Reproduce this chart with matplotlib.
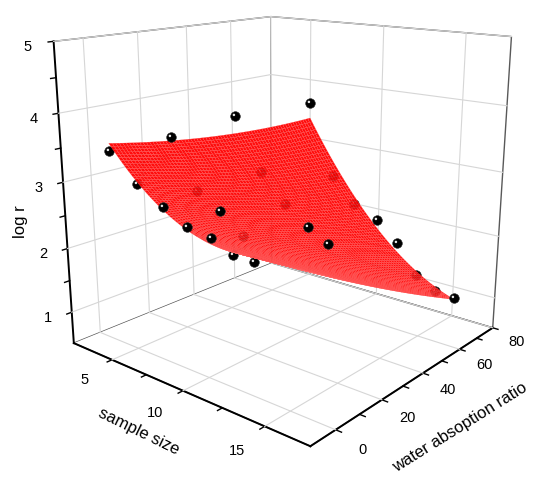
import numpy as np
import matplotlib
matplotlib.use('Agg')
import matplotlib.pyplot as plt
from matplotlib.path import Path
from matplotlib.text import Text
from mpl_toolkits.mplot3d import proj3d

plt.rcParams['font.family'] = ['Liberation Sans', 'DejaVu Sans']

# ---- data: rows of constant water absorption ratio ----
y_levels = [0, 20, 50, 80]
x_row0 = [3.5, 5.45, 7.2, 8.8, 10.3, 11.7, 12.9]
z_row0 = [3.44, 3.05, 2.81, 2.62, 2.56, 2.41, 2.40]
x_row1 = [4.25, 6.0, 7.6, 9.1]
z_row1 = [3.49, 2.76, 2.54, 2.25]
x_row2 = [3.85, 5.7, 7.45, 9.05, 10.4]
z_row2 = [3.57, 2.72, 2.29, 2.00, 1.82]
x_row3 = [5.0, 6.7, 8.3, 9.9, 11.3, 12.6, 13.9, 15.1]
z_row3 = [3.60, 2.40, 1.99, 1.81, 1.49, 1.02, 0.85, 0.82]

x_major = [5, 10, 15]
y_major = [0, 20, 40, 60, 80]
z_major = [1, 2, 3, 4, 5]
x_minor_step, y_minor_step, z_minor_step = 2.5, 10, 0.5
x_lim, y_lim, z_lim = (2, 17.5), (-10, 80), (0.5, 5)

rows_x = [x_row0, x_row1, x_row2, x_row3]
rows_z = [z_row0, z_row1, z_row2, z_row3]
xs = np.concatenate([np.array(r, float) for r in rows_x])
ys = np.concatenate([np.full(len(r), yl, float) for r, yl in zip(rows_x, y_levels)])
zs = np.concatenate([np.array(r, float) for r in rows_z])

# Poly2D surface fit: z = z0 + a x + b y + c x^2 + d x y + e y^2
def design(x, y):
    return np.column_stack([np.ones_like(x), x, y, x**2, x*y, y**2])
coef, *_ = np.linalg.lstsq(design(xs, ys), zs, rcond=None)

# fitted surface over the extent of the data (first to last sample of the outer rows)
s = np.linspace(0, 1, 70)
t = np.linspace(0, 1, 70)
S, T = np.meshgrid(s, t)
x_lo = x_row0[0] + T * (x_row3[0] - x_row0[0])
x_hi = x_row0[-1] + T * (x_row3[-1] - x_row0[-1])
GX = x_lo + S * (x_hi - x_lo)
GY = y_levels[0] + T * (y_levels[-1] - y_levels[0])
GZ = (design(GX.ravel(), GY.ravel()) @ coef).reshape(GX.shape)
res = zs - design(xs, ys) @ coef
above = res > 0

fig = plt.figure(figsize=(5.5, 4.91), dpi=100)
ax = fig.add_axes([0.01, 0.092, 1.0, 1.0], projection='3d', computed_zorder=False)
ax.set_proj_type('persp', focal_length=0.36)
ax.view_init(elev=16, azim=-50)
ax.set_box_aspect((1.16, 1.16, 1.15), zoom=1.06)
ax.set_xlim(*x_lim)
ax.set_ylim(*y_lim)
ax.set_zlim(*z_lim)
ax.grid(False)

for axis in (ax.xaxis, ax.yaxis, ax.zaxis):
    axis.set_pane_color((1, 1, 1, 1))
    axis.pane.set_edgecolor('0.35')
    axis.pane.set_linewidth(1.0)
    axis.line.set_color('black')
    axis.line.set_linewidth(1.4)
    axis._axinfo['tick'].update(inward_factor=0.25, outward_factor=0.0)
    axis._axinfo['tick']['linewidth'] = {True: 1.0, False: 1.0}
ax.zaxis.set_ticks_position('lower')

ax.set_xticks(np.arange(x_major[0], x_major[-1] + 0.01, x_minor_step))
ax.set_yticks(np.arange(y_major[0], y_major[-1] + 0.01, y_minor_step))
ax.set_zticks(np.arange(z_major[0], z_major[-1] + 0.01, z_minor_step))
for axis in (ax.xaxis, ax.yaxis, ax.zaxis):
    axis.set_tick_params(label1On=False, label2On=False, color='black')

# grid lines on the back walls and the floor (major ticks only)
gkw = dict(color='0.84', linewidth=0.8, zorder=0.5)
x0, x1 = x_lim; y0, y1 = y_lim; z0, z1 = z_lim
for yv in y_major:
    ax.plot([x0, x0], [yv, yv], [z0, z1], **gkw)
    ax.plot([x0, x1], [yv, yv], [z0, z0], **gkw)
for xv in x_major:
    ax.plot([xv, xv], [y1, y1], [z0, z1], **gkw)
    ax.plot([xv, xv], [y0, y1], [z0, z0], **gkw)
for zv in z_major:
    ax.plot([x0, x0], [y0, y1], [zv, zv], **gkw)
    ax.plot([x0, x1], [y1, y1], [zv, zv], **gkw)

# axis titles
fig.text(139 / 550, 1 - 432 / 491, 'sample size', rotation=-26, fontsize=12,
         ha='center', va='center', rotation_mode='anchor')
fig.text(460 / 550, 1 - 427 / 491, 'water absoption ratio', rotation=32, fontsize=12,
         ha='center', va='center', rotation_mode='anchor')
fig.text(20 / 550, 1 - 222 / 491, 'log r', rotation=90, fontsize=12,
         ha='center', va='center', rotation_mode='anchor')

# marker with a small highlight
circ = Path.unit_circle()
hv = np.vstack([circ.vertices * 0.26 + np.array([-0.33, 0.33]), [[-1, -1], [1, 1]]])
hc = np.concatenate([circ.codes, [Path.MOVETO, Path.MOVETO]])
hl_marker = Path(hv, hc)

def balls(mask, z):
    ax.scatter(xs[mask], ys[mask], zs[mask], s=48, c='black', edgecolors='0.15',
               linewidths=0.4, depthshade=False, zorder=z)
    ax.scatter(xs[mask], ys[mask], zs[mask], s=48, marker=hl_marker, c='0.92',
               linewidths=0, depthshade=False, zorder=z + 0.1)

balls(~above, 1)
ax.plot_surface(GX, GY, GZ, color='red', edgecolor='#ff6a6a', linewidth=0.15,
                rstride=1, cstride=1, shade=False, antialiased=True, alpha=0.95, zorder=2)
balls(above, 3)

# tick labels, anchored at 3D points just outside the axes
tkw = dict(fontsize=10.5, ha='center', va='center', color='black')
label_specs = ([(xv, y0 - 10, z0 - 0.12, f'{xv:g}') for xv in x_major] +
               [(x1 + 1.4, yv, z0 - 0.12, f'{yv:g}') for yv in y_major] +
               [(x0 - 0.7, y0 - 5.5, zv - 0.06, f'{zv:g}') for zv in z_major])
fig.canvas.draw()
try:
    M = ax.M
    W, H = fig.bbox.width, fig.bbox.height
    for lx, ly, lz, txt in label_specs:
        px, py, _ = proj3d.proj_transform(lx, ly, lz, M)
        dx, dy = ax.transData.transform((float(px), float(py)))
        fig.text(dx / W, dy / H, txt, **tkw)
except Exception:
    for lx, ly, lz, txt in label_specs:
        ax.text(lx, ly, lz, txt, **tkw)

# hide the empty placeholder texts of the 3D axes
for txt in fig.findobj(Text):
    if not txt.get_text():
        txt.set_visible(False)
for axis in (ax.xaxis, ax.yaxis, ax.zaxis):
    axis.label.set_visible(False)
    axis.offsetText.set_visible(False)

fig.savefig('out.png', dpi=100)
